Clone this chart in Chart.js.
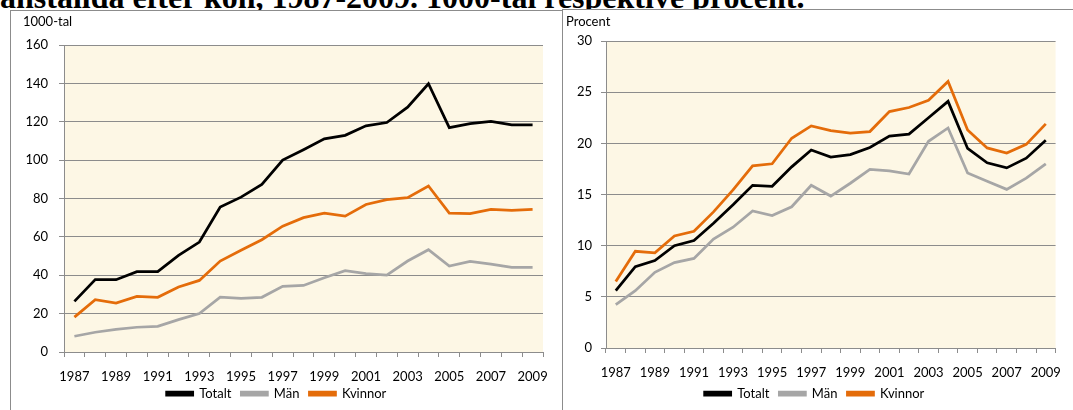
<!DOCTYPE html>
<html><head><meta charset="utf-8">
<script src="https://cdn.jsdelivr.net/npm/chart.js@4.4.0/dist/chart.umd.min.js"></script>
<style>
html,body{margin:0;padding:0;background:#fff;width:1073px;height:410px;overflow:hidden;position:relative;font-family:Lato,sans-serif}
#hdr{position:absolute;left:0;top:-19px;font:bold 32px/32px "Liberation Serif","Times New Roman",serif;white-space:nowrap;color:#000}
.box{position:absolute;border:1px solid #8c8c8c;border-bottom:none;box-sizing:border-box;background:#fff}
#b1{left:10px;top:10px;width:553px;height:410px}
#b2{left:562px;top:9px;width:520px;height:410px}
.unit{position:absolute;font:13px/13px Lato,sans-serif;color:#000;white-space:nowrap;z-index:3}
canvas{position:absolute;z-index:2}
#c1{left:10px;top:10px}
#c2{left:562px;top:9px}
</style></head>
<body>
<div id="hdr">anställda efter kön, 1987-2009. 1000-tal respektive procent.</div>
<div class="box" id="b1"></div>
<div class="box" id="b2"></div>
<div class="unit" style="left:23px;top:15px">1000-tal</div>
<div class="unit" style="left:566px;top:15px">Procent</div>
<canvas id="c1" width="552" height="400"></canvas>
<canvas id="c2" width="511" height="401"></canvas>
<script>
const years = ['1987','1988','1989','1990','1991','1992','1993','1994','1995','1996','1997','1998','1999','2000','2001','2002','2003','2004','2005','2006','2007','2008','2009'];
const tickLabels = ['1987','','1989','','1991','','1993','','1995','','1997','','1999','','2001','','2003','','2005','','2007','','2009'];
const seriesNames = ['Totalt','Män','Kvinnor'];

// 1000-tal
const antalTotalt  = [26.4,37.7,37.7,41.9,41.9,50.4,57.3,75.5,80.7,87.3,100.0,105.4,111.1,112.9,117.9,119.6,127.6,139.8,116.9,119.0,120.2,118.4,118.4];
const antalMan     = [8.2,10.3,11.8,12.9,13.4,16.9,20.0,28.6,28.0,28.5,34.2,34.7,38.7,42.4,40.8,40.1,47.4,53.3,44.8,47.2,45.8,44.1,44.1];
const antalKvinnor = [18.2,27.3,25.5,29.0,28.5,33.9,37.3,47.4,53.0,58.5,65.6,70.0,72.4,70.8,76.9,79.4,80.4,86.5,72.4,72.1,74.3,73.8,74.3];

// Procent
const procTotalt  = [5.6,7.95,8.54,10.0,10.5,12.2,14.0,15.9,15.8,17.7,19.35,18.65,18.9,19.6,20.7,20.9,22.5,24.1,19.5,18.1,17.6,18.55,20.3];
const procMan     = [4.25,5.6,7.4,8.35,8.75,10.65,11.8,13.4,12.95,13.8,15.9,14.85,16.1,17.45,17.3,17.0,20.2,21.5,17.1,16.3,15.5,16.6,18.0];
const procKvinnor = [6.5,9.45,9.3,10.95,11.4,13.3,15.45,17.8,18.0,20.5,21.7,21.25,21.0,21.15,23.1,23.5,24.2,26.05,21.3,19.55,19.05,19.9,21.9];

const colors = ['#000000','#a6a6a6','#e46c0a'];
const gridColor = '#8c8c8c';

const bgPlugin = {
  id: 'plotBg',
  afterLayout(chart) {
    // let the x tick labels extend below the (short) axis box without being clipped
    const xs = chart.scales.x;
    if (xs) xs._computeLabelArea = () => undefined;
  },
  beforeDraw(chart) {
    const a = chart.chartArea, ctx = chart.ctx;
    ctx.save();
    ctx.fillStyle = '#fdf7e5';
    ctx.fillRect(a.left, a.top, a.right - a.left, a.bottom - a.top);
    ctx.restore();
  }
};

function makeChart(id, data, yMax, yStep, yWidth, yPad, pad, xHeight) {
  return new Chart(document.getElementById(id), {
    type: 'line',
    data: {
      labels: years,
      datasets: data.map((d, i) => ({
        label: seriesNames[i],
        data: d,
        borderColor: colors[i],
        backgroundColor: colors[i],
        borderWidth: 2.75,
        pointRadius: 0,
        tension: 0,
        fill: false
      }))
    },
    options: {
      responsive: false,
      animation: false,
      events: [],
      layout: { padding: pad },
      plugins: {
        legend: {
          position: 'bottom',
          labels: { boxWidth: 26, boxHeight: 3, padding: 10, color: '#000', font: { family: 'Lato', size: 13 } }
        },
        tooltip: { enabled: false },
        title: { display: false }
      },
      scales: {
        x: {
          offset: true,
          grid: { display: true, drawOnChartArea: false, drawTicks: true, tickLength: 5, offset: true, color: gridColor },
          border: { color: gridColor },
          ticks: {
            autoSkip: false, maxRotation: 0, padding: 12, color: '#000',
            font: { family: 'Lato', size: 13 },
            callback: (v, i) => tickLabels[i]
          },
          afterFit: s => { s.height = xHeight; }
        },
        y: {
          min: 0, max: yMax,
          grid: { color: gridColor, tickLength: 5, drawTicks: true },
          border: { color: gridColor },
          ticks: { stepSize: yStep, padding: yPad, color: '#000', font: { family: 'Lato', size: 13 } },
          afterFit: s => { s.width = yWidth; }
        }
      }
    },
    plugins: [bgPlugin]
  });
}

makeChart('c1', [antalTotalt, antalMan, antalKvinnor], 160, 20, 54, 11, { top: 35, right: 19, bottom: 0, left: 0 }, 25);
makeChart('c2', [procTotalt, procMan, procKvinnor], 30, 5, 44, 9, { top: 32, right: 6, bottom: 0, left: 0 }, 29);
</script>
</body></html>
